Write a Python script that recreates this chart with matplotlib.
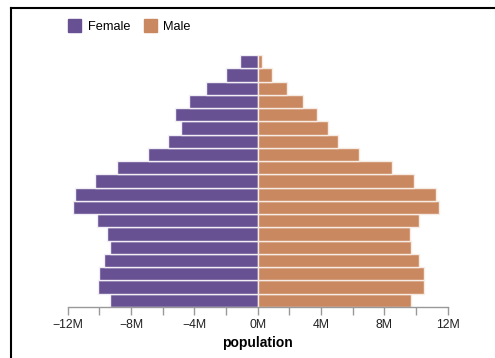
import matplotlib.pyplot as plt
from matplotlib.lines import Line2D
from matplotlib.patches import Rectangle

plt.rcParams['font.family'] = ['Liberation Sans', 'DejaVu Sans']

# age groups 0, 5, ..., 90 (bottom to top)
ages = list(range(0, 95, 5))
female = [9.33, 10.09, 10.03, 9.71, 9.35, 9.54, 10.13, 11.65, 11.52, 10.28,
          8.91, 6.93, 5.69, 4.83, 5.20, 4.36, 3.25, 2.00, 1.10]
male = [9.70, 10.52, 10.52, 10.21, 9.70, 9.62, 10.17, 11.45, 11.28, 9.89,
        8.48, 6.42, 5.09, 4.42, 3.77, 2.88, 1.87, 0.92, 0.29]
ticks = [-12, -8, -4, 0, 4, 8, 12]
tick_labels = ['\u221212M', '\u22128M', '\u22124M', '0M', '4M', '8M', '12M']

purple = '#675193'
orange = '#ca8861'

fig = plt.figure(figsize=(4.95, 3.58), dpi=100)
ax = fig.add_axes([67.7 / 495, 51 / 358, 380 / 495, 252 / 358])

ypos = range(len(ages))
ax.barh(ypos, [-v * 1e6 for v in female], height=1.0, color=purple,
        edgecolor='#f2eef5', linewidth=1.0)
ax.barh(ypos, [v * 1e6 for v in male], height=1.0, color=orange,
        edgecolor='#f7ece4', linewidth=1.0)

ax.set_xlim(-12e6, 12e6)
ax.set_ylim(-0.5, len(ages) - 0.5)
ax.set_xticks([t * 1e6 for t in ticks])
ax.set_xticks([t * 1e6 for t in range(-12, 13, 2)], minor=True)
ax.set_xticklabels(tick_labels, fontsize=8.8, color='#222222')
ax.tick_params(axis='x', which='both', length=6, width=1, color='#999999', pad=3)
ax.set_yticks([])
for s in ['top', 'right', 'left']:
    ax.spines[s].set_visible(False)
ax.spines['bottom'].set_color('#999999')
ax.spines['bottom'].set_linewidth(1)
ax.set_xlabel('population', fontsize=10, fontweight='bold', labelpad=3)

# legend drawn by hand to match placement
fig.patches.append(Rectangle((68 / 495, 1 - 32 / 358), 13 / 495, 13 / 358,
                             transform=fig.transFigure, color=purple))
fig.text(88 / 495, 1 - 29.5 / 358, 'Female', fontsize=9.2, va='baseline')
fig.patches.append(Rectangle((144 / 495, 1 - 32 / 358), 13 / 495, 13 / 358,
                             transform=fig.transFigure, color=orange))
fig.text(163 / 495, 1 - 29.5 / 358, 'Male', fontsize=9.2, va='baseline')

# frame on left and top
fig.add_artist(Line2D([11 / 495, 11 / 495], [0, 1 - 8 / 358], color='black',
                      lw=1.5, transform=fig.transFigure))
fig.add_artist(Line2D([11 / 495, 1], [1 - 8 / 358, 1 - 8 / 358], color='black',
                      lw=1.5, transform=fig.transFigure))

fig.savefig('out.png', dpi=100)
